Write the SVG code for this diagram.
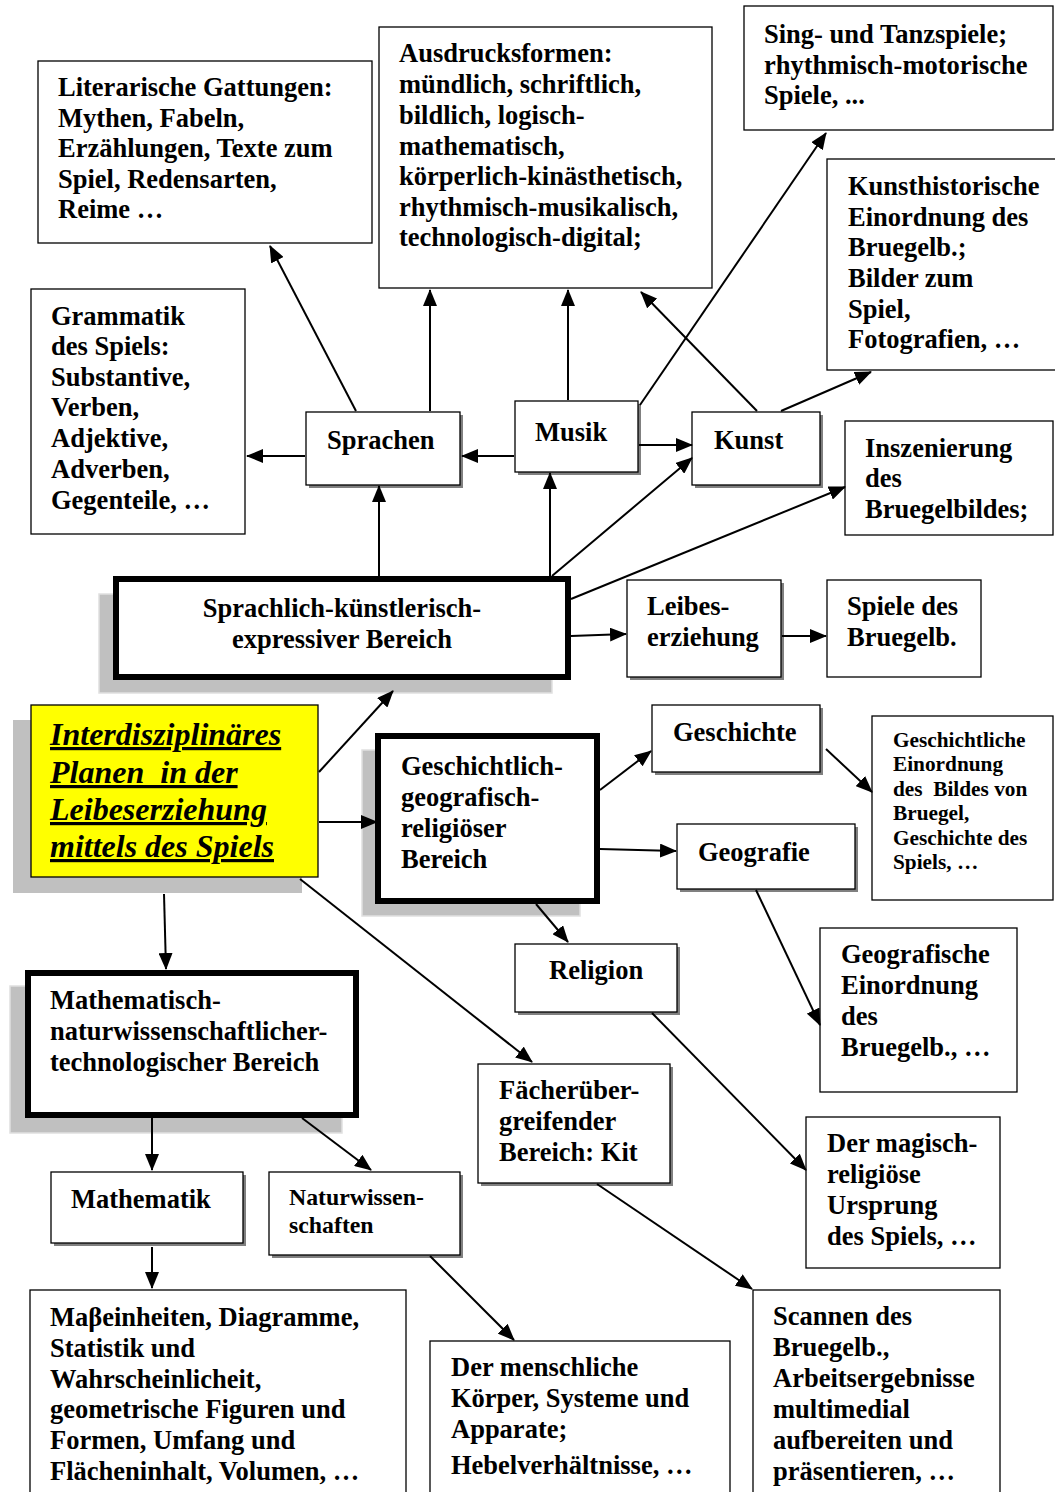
<svg xmlns="http://www.w3.org/2000/svg" width="1055" height="1492" viewBox="0 0 1055 1492">
<defs>
<marker id="ah" markerUnits="userSpaceOnUse" markerWidth="18" markerHeight="14" refX="16" refY="7" orient="auto">
<path d="M0,0 L17,7 L0,14 Z" fill="#000"/>
</marker>
<style>
text{font-family:"Liberation Serif","Times New Roman",serif;font-weight:bold;fill:#000;}
.t{font-size:26.5px;}
.s{font-size:21.3px;}
.m{font-size:23.8px;}
.box{fill:#fff;stroke:#000;stroke-width:1.3;}
.sh{fill:#808080;}
.thick{fill:#fff;stroke:#000;stroke-width:6;}
.bigsh{fill:#c0c0c0;stroke:#e0e0e0;stroke-width:1.5;}
.c{fill:none;stroke:#000;stroke-width:2;marker-end:url(#ah);}
.it{font-size:32px;font-style:italic;text-decoration:underline;}
</style>
</defs>
<rect width="1055" height="1492" fill="#fff"/>

<g id="n-literarische">
<rect class="box" x="38" y="61" width="334" height="182"/>
<text class="t" x="58"><tspan x="58" y="96">Literarische Gattungen:</tspan><tspan x="58" y="127">Mythen, Fabeln,</tspan><tspan x="58" y="157">Erzählungen, Texte zum</tspan><tspan x="58" y="188">Spiel, Redensarten,</tspan><tspan x="58" y="218">Reime …</tspan></text>
</g>

<g id="n-ausdrucksformen">
<rect class="box" x="379" y="27" width="333" height="261"/>
<text class="t"><tspan x="399" y="62">Ausdrucksformen:</tspan><tspan x="399" y="93">mündlich, schriftlich,</tspan><tspan x="399" y="124">bildlich, logisch-</tspan><tspan x="399" y="155">mathematisch,</tspan><tspan x="399" y="185">körperlich-kinästhetisch,</tspan><tspan x="399" y="216">rhythmisch-musikalisch,</tspan><tspan x="399" y="246">technologisch-digital;</tspan></text>
</g>

<g id="n-sing">
<rect class="box" x="744" y="6" width="309" height="124"/>
<text class="t"><tspan x="764" y="43">Sing- und Tanzspiele;</tspan><tspan x="764" y="74">rhythmisch-motorische</tspan><tspan x="764" y="104">Spiele, ...</tspan></text>
</g>

<g id="n-kunsthistorische">
<rect class="box" x="827" y="159" width="232" height="211"/>
<text class="t"><tspan x="848" y="195">Kunsthistorische</tspan><tspan x="848" y="226">Einordnung des</tspan><tspan x="848" y="256">Bruegelb.;</tspan><tspan x="848" y="287">Bilder zum</tspan><tspan x="848" y="318">Spiel,</tspan><tspan x="848" y="348">Fotografien, …</tspan></text>
</g>

<g id="n-grammatik">
<rect class="box" x="31" y="289" width="214" height="245"/>
<text class="t"><tspan x="51" y="325">Grammatik</tspan><tspan x="51" y="355">des Spiels:</tspan><tspan x="51" y="386">Substantive,</tspan><tspan x="51" y="416">Verben,</tspan><tspan x="51" y="447">Adjektive,</tspan><tspan x="51" y="478">Adverben,</tspan><tspan x="51" y="509">Gegenteile, …</tspan></text>
</g>

<g id="n-sprachen">
<rect class="sh" x="309" y="415" width="154" height="73"/>
<rect class="box" x="306" y="412" width="154" height="73"/>
<text class="t" x="327" y="449">Sprachen</text>
</g>

<g id="n-musik">
<rect class="sh" x="518" y="404" width="123" height="71"/>
<rect class="box" x="515" y="401" width="123" height="71"/>
<text class="t" x="535" y="441">Musik</text>
</g>

<g id="n-kunst">
<rect class="sh" x="695" y="415" width="128" height="73"/>
<rect class="box" x="692" y="412" width="128" height="73"/>
<text class="t" x="714" y="449">Kunst</text>
</g>

<g id="n-inszenierung">
<rect class="box" x="845" y="421" width="208" height="114"/>
<text class="t"><tspan x="865" y="457">Inszenierung</tspan><tspan x="865" y="487">des</tspan><tspan x="865" y="518">Bruegelbildes;</tspan></text>
</g>

<g id="n-sprachlich">
<rect class="bigsh" x="99" y="594" width="453" height="99"/>
<rect class="thick" x="116" y="579" width="452" height="98"/>
<text class="t" text-anchor="middle"><tspan x="342" y="617">Sprachlich-künstlerisch-</tspan><tspan x="342" y="648">expressiver Bereich</tspan></text>
</g>

<g id="n-leibes">
<rect class="sh" x="630" y="583" width="154" height="97"/>
<rect class="box" x="627" y="580" width="154" height="97"/>
<text class="t"><tspan x="647" y="615">Leibes-</tspan><tspan x="647" y="646">erziehung</tspan></text>
</g>

<g id="n-spiele">
<rect class="box" x="827" y="580" width="154" height="97"/>
<text class="t"><tspan x="847" y="615">Spiele des</tspan><tspan x="847" y="646">Bruegelb.</tspan></text>
</g>

<g id="n-interdisz">
<rect fill="#c0c0c0" x="13" y="720" width="289" height="173"/>
<rect fill="#ffff00" stroke="#000" stroke-width="1.3" x="31" y="705" width="287" height="172"/>
<text class="it" xml:space="preserve"><tspan x="50" y="745">Interdisziplinäres</tspan><tspan x="50" y="783">Planen  in der</tspan><tspan x="50" y="820">Leibeserziehung</tspan><tspan x="50" y="857">mittels des Spiels</tspan></text>
</g>

<g id="n-ggr">
<rect class="bigsh" x="362" y="750" width="218" height="166"/>
<rect class="thick" x="378" y="736" width="219" height="165"/>
<text class="t"><tspan x="401" y="775">Geschichtlich-</tspan><tspan x="401" y="806">geografisch-</tspan><tspan x="401" y="837">religiöser</tspan><tspan x="401" y="868">Bereich</tspan></text>
</g>

<g id="n-geschichte">
<rect class="sh" x="655" y="708" width="168" height="67"/>
<rect class="box" x="652" y="705" width="168" height="67"/>
<text class="t" x="673" y="741">Geschichte</text>
</g>

<g id="n-geschichtliche">
<rect class="box" x="872" y="716" width="181" height="184"/>
<text class="s" xml:space="preserve"><tspan x="893" y="747">Geschichtliche</tspan><tspan x="893" y="771">Einordnung</tspan><tspan x="893" y="796">des  Bildes von</tspan><tspan x="893" y="820">Bruegel,</tspan><tspan x="893" y="845">Geschichte des</tspan><tspan x="893" y="869">Spiels, …</tspan></text>
</g>

<g id="n-geografie">
<rect class="sh" x="680" y="827" width="178" height="65"/>
<rect class="box" x="677" y="824" width="178" height="65"/>
<text class="t" x="698" y="861">Geografie</text>
</g>

<g id="n-religion">
<rect class="sh" x="518" y="947" width="162" height="68"/>
<rect class="box" x="515" y="944" width="162" height="68"/>
<text class="t" x="549" y="979">Religion</text>
</g>

<g id="n-geografische">
<rect class="box" x="820" y="928" width="197" height="164"/>
<text class="t"><tspan x="841" y="963">Geografische</tspan><tspan x="841" y="994">Einordnung</tspan><tspan x="841" y="1025">des</tspan><tspan x="841" y="1056">Bruegelb., …</tspan></text>
</g>

<g id="n-mathnat">
<rect class="bigsh" x="10" y="986" width="332" height="147"/>
<rect class="thick" x="28" y="973" width="328" height="142"/>
<text class="t"><tspan x="50" y="1009">Mathematisch-</tspan><tspan x="50" y="1040">naturwissenschaftlicher-</tspan><tspan x="50" y="1071">technologischer Bereich</tspan></text>
</g>

<g id="n-faecher">
<rect class="sh" x="481" y="1067" width="192" height="119"/>
<rect class="box" x="478" y="1064" width="192" height="119"/>
<text class="t"><tspan x="499" y="1099">Fächerüber-</tspan><tspan x="499" y="1130">greifender</tspan><tspan x="499" y="1161">Bereich: Kit</tspan></text>
</g>

<g id="n-magisch">
<rect class="box" x="806" y="1117" width="194" height="151"/>
<text class="t"><tspan x="827" y="1152">Der magisch-</tspan><tspan x="827" y="1183">religiöse</tspan><tspan x="827" y="1214">Ursprung</tspan><tspan x="827" y="1245">des Spiels, …</tspan></text>
</g>

<g id="n-mathematik">
<rect class="sh" x="54" y="1175" width="192" height="71"/>
<rect class="box" x="51" y="1172" width="192" height="71"/>
<text class="t" x="71" y="1208">Mathematik</text>
</g>

<g id="n-naturwissen">
<rect class="sh" x="272" y="1175" width="191" height="83"/>
<rect class="box" x="269" y="1172" width="191" height="83"/>
<text class="m"><tspan x="289" y="1205">Naturwissen-</tspan><tspan x="289" y="1233">schaften</tspan></text>
</g>

<g id="n-masseinheiten">
<rect class="box" x="30" y="1290" width="376" height="210"/>
<text class="t"><tspan x="50" y="1326">Maβeinheiten, Diagramme,</tspan><tspan x="50" y="1357">Statistik und</tspan><tspan x="50" y="1388">Wahrscheinlicheit,</tspan><tspan x="50" y="1418">geometrische Figuren und</tspan><tspan x="50" y="1449">Formen, Umfang und</tspan><tspan x="50" y="1480">Flächeninhalt, Volumen, …</tspan></text>
</g>

<g id="n-menschliche">
<rect class="box" x="430" y="1341" width="300" height="160"/>
<text class="t"><tspan x="451" y="1376">Der menschliche</tspan><tspan x="451" y="1407">Körper, Systeme und</tspan><tspan x="451" y="1438">Apparate;</tspan><tspan x="451" y="1474">Hebelverhältnisse, …</tspan></text>
</g>

<g id="n-scannen">
<rect class="box" x="753" y="1290" width="247" height="210"/>
<text class="t"><tspan x="773" y="1325">Scannen des</tspan><tspan x="773" y="1356">Bruegelb.,</tspan><tspan x="773" y="1387">Arbeitsergebnisse</tspan><tspan x="773" y="1418">multimedial</tspan><tspan x="773" y="1449">aufbereiten und</tspan><tspan x="773" y="1480">präsentieren, …</tspan></text>
</g>

<g id="connectors">
<line class="c" x1="356" y1="411" x2="270" y2="246"/>
<line class="c" x1="430" y1="411" x2="430" y2="290"/>
<line class="c" x1="568" y1="400" x2="568" y2="290"/>
<line class="c" x1="757" y1="411" x2="641" y2="292"/>
<line class="c" x1="640" y1="405" x2="826" y2="133"/>
<line class="c" x1="781" y1="411" x2="871" y2="372"/>
<line class="c" x1="305" y1="456" x2="247" y2="456"/>
<line class="c" x1="514" y1="456" x2="462" y2="456"/>
<line class="c" x1="639" y1="445" x2="692" y2="445"/>
<line class="c" x1="379" y1="576" x2="379" y2="486"/>
<line class="c" x1="550" y1="576" x2="550" y2="473"/>
<line class="c" x1="552" y1="576" x2="692" y2="458"/>
<line class="c" x1="571" y1="599" x2="845" y2="487"/>
<line class="c" x1="571" y1="636" x2="626" y2="634"/>
<line class="c" x1="782" y1="636" x2="826" y2="636"/>
<line class="c" x1="319" y1="772" x2="393" y2="691"/>
<line class="c" x1="319" y1="822" x2="377" y2="822"/>
<line class="c" x1="164" y1="894" x2="166" y2="969"/>
<line class="c" x1="300" y1="879" x2="532" y2="1062"/>
<line class="c" x1="600" y1="790" x2="651" y2="751"/>
<line class="c" x1="600" y1="849" x2="676" y2="851"/>
<line class="c" x1="536" y1="904" x2="568" y2="942"/>
<line class="c" x1="826" y1="749" x2="872" y2="792"/>
<line class="c" x1="756" y1="890" x2="820" y2="1025"/>
<line class="c" x1="652" y1="1013" x2="806" y2="1170"/>
<line class="c" x1="152" y1="1118" x2="152" y2="1170"/>
<line class="c" x1="302" y1="1118" x2="371" y2="1170"/>
<line class="c" x1="152" y1="1247" x2="152" y2="1288"/>
<line class="c" x1="430" y1="1256" x2="514" y2="1340"/>
<line class="c" x1="597" y1="1184" x2="752" y2="1289"/>
</g>
</svg>
